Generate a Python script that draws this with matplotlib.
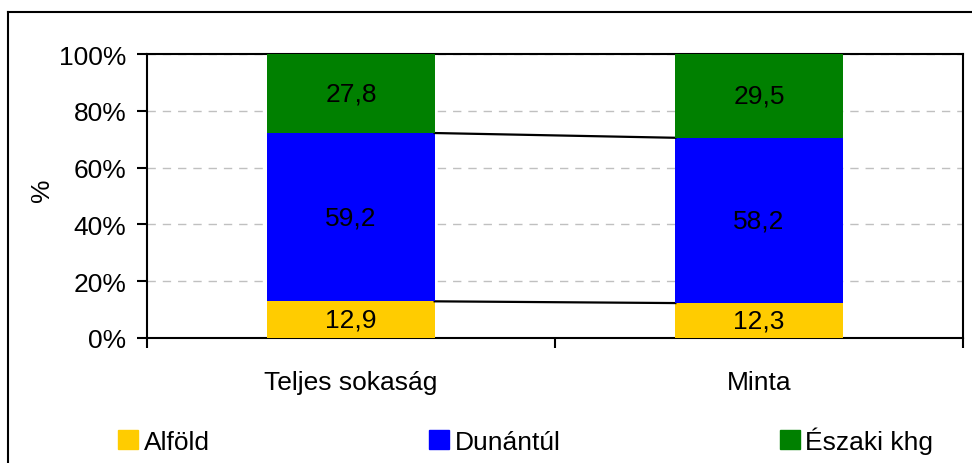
import numpy as np
import matplotlib
matplotlib.use("Agg")
import matplotlib.pyplot as plt
from matplotlib.patches import Patch
from matplotlib.lines import Line2D

plt.rcParams['font.family'] = ['Liberation Sans', 'DejaVu Sans']

categories = ['Teljes sokaság', 'Minta']
series_names = ['Alföld', 'Dunántúl', 'Északi khg']
alfold = [12.9, 12.3]
dunantul = [59.2, 58.2]
eszaki = [27.8, 29.5]
colors = ['#FFCC00', '#0000FF', '#008000']

values = np.array([alfold, dunantul, eszaki])
shares = values / values.sum(axis=0) * 100

fs = 19
fig = plt.figure(figsize=(9.72, 4.64), dpi=100)
ax = fig.add_axes([147 / 972, 1 - 339 / 464, (963 - 147) / 972, (339 - 55) / 464])

x = np.arange(len(categories))
width = 0.41
bottom = np.zeros(len(categories))
for i, name in enumerate(series_names):
    ax.bar(x, shares[i], width, bottom=bottom, color=colors[i], label=name, zorder=3)
    for j in range(len(categories)):
        ax.text(x[j], bottom[j] + shares[i][j] / 2, f"{values[i][j]:.1f}".replace('.', ','),
                ha='center', va='center', fontsize=fs, zorder=4)
    bottom = bottom + shares[i]
    # series lines between bars
    if i < len(series_names) - 1:
        ax.plot([x[0] + width / 2, x[1] - width / 2], [bottom[0], bottom[1]],
                color='black', lw=1.6, zorder=3)

ax.set_xlim(-0.5, 1.5)
ax.set_ylim(0, 100)
ax.set_yticks(np.arange(0, 101, 20))
ax.set_yticklabels([f"{v}%" for v in range(0, 101, 20)], fontsize=fs)
ax.set_xticks(x)
ax.set_xticklabels(categories, fontsize=fs)
ax.tick_params(axis='x', which='major', length=0, pad=23)
ax.set_xticks([-0.5, 0.5, 1.5], minor=True)
ax.tick_params(axis='x', which='minor', length=7, width=1.5, direction='out')
ax.tick_params(axis='y', length=7, width=1.5, direction='out', pad=8)
ax.set_ylabel('%', fontsize=fs)
ax.yaxis.set_label_coords(-0.114, 0.525)

ax.grid(axis='y', color='#C0C0C0', linestyle=(0, (6, 5)), lw=1, zorder=0)
for s in ax.spines.values():
    s.set_linewidth(1.5)
    s.set_color('black')

handles = [Patch(facecolor=c, edgecolor=c) for c in colors]
fig.legend(handles, series_names, ncol=3, loc='center', bbox_to_anchor=(0.541, 0.05),
           frameon=False, fontsize=fs, handlelength=0.75, handleheight=0.75,
           handletextpad=0.2, columnspacing=8.33)

# outer chart border
fig.add_artist(Line2D([8 / 972, 8 / 972], [0, 1 - 13 / 464], color='black', lw=1.5))
fig.add_artist(Line2D([8 / 972, 1], [1 - 13 / 464, 1 - 13 / 464], color='black', lw=1.5))

fig.savefig('out.png', dpi=100)
